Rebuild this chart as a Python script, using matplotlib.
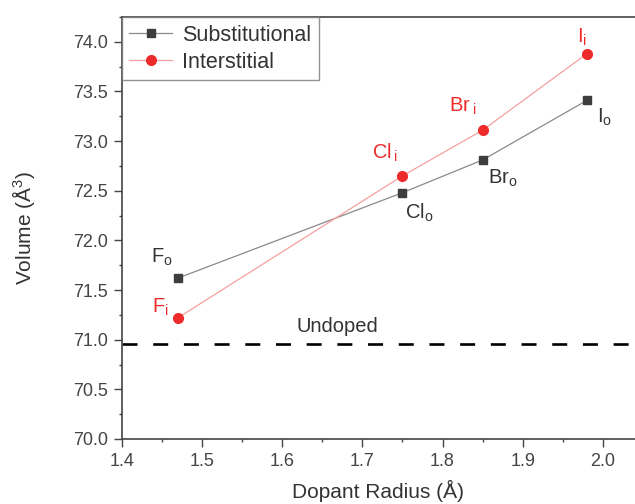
import matplotlib
matplotlib.use("Agg")
import matplotlib.pyplot as plt
from matplotlib.ticker import MultipleLocator, FormatStrFormatter
import matplotlib.transforms as mtransforms

plt.rcParams['font.family'] = ['Liberation Sans', 'DejaVu Sans']
plt.rcParams['mathtext.fontset'] = 'custom'
plt.rcParams['mathtext.rm'] = 'Liberation Sans'
plt.rcParams['mathtext.it'] = 'Liberation Sans'
plt.rcParams['lines.scale_dashes'] = False

# Data
radius = [1.47, 1.75, 1.85, 1.98]
substitutional = [71.62, 72.48, 72.81, 73.41]
interstitial = [71.22, 72.65, 73.11, 73.88]
undoped = 70.96
sub_labels = ["F$_\\mathrm{o}$", "Cl$_\\mathrm{o}$", "Br$_\\mathrm{o}$", "I$_\\mathrm{o}$"]
int_labels = ["F$_\\mathrm{i}$", "Cl$\\,_\\mathrm{i}$", "Br$\\,_\\mathrm{i}$", "I$_\\mathrm{i}$"]
sub_offsets = [(-16, 21), (17, -20), (20, -18), (18, -17)]
int_offsets = [(-17, 10), (-17, 23), (-20, 24), (-5, 16)]

text_gray = '#333333'
red = '#ee2b2b'

fig = plt.figure(figsize=(6.35, 5.04), dpi=100)
ax = fig.add_axes([0.1917, 0.129, 1.0 - 0.1917, 0.9663 - 0.129])

ax.plot(radius, substitutional, color='#8a8a8a', lw=0.9, marker='s', ms=6,
        mfc='#3d3d3d', mec='#3d3d3d', label='Substitutional', zorder=3)
ax.plot(radius, interstitial, color='#f5a0a0', lw=0.9, marker='o', ms=7,
        mfc=red, mec=red, label='Interstitial', zorder=3)

ax.axhline(undoped, color='black', lw=1.9, dashes=(10.8, 11.3), zorder=2)
ax.annotate('Undoped', xy=(0.42, undoped),
            xycoords=mtransforms.blended_transform_factory(ax.transAxes, ax.transData),
            xytext=(0, 8), textcoords='offset pixels',
            ha='center', va='bottom', fontsize=14.5, color=text_gray)

for x, y, lab, off in zip(radius, substitutional, sub_labels, sub_offsets):
    ax.annotate(lab, xy=(x, y), xytext=off, textcoords='offset pixels',
                ha='center', va='center', fontsize=14.5, color=text_gray)
for x, y, lab, off in zip(radius, interstitial, int_labels, int_offsets):
    ax.annotate(lab, xy=(x, y), xytext=off, textcoords='offset pixels',
                ha='center', va='center', fontsize=14.5, color=red)

ax.set_xlim(1.4, 2.04)
ax.set_ylim(70.0, 74.25)
ax.xaxis.set_major_locator(MultipleLocator(0.1))
ax.xaxis.set_minor_locator(MultipleLocator(0.05))
ax.yaxis.set_major_locator(MultipleLocator(0.5))
ax.yaxis.set_minor_locator(MultipleLocator(0.25))
ax.xaxis.set_major_formatter(FormatStrFormatter('%.1f'))
ax.yaxis.set_major_formatter(FormatStrFormatter('%.1f'))

ax.tick_params(which='both', direction='out', color='#444444', width=1.0,
               labelsize=13, labelcolor='#444444', top=False, right=False)
ax.tick_params(which='major', length=5.5, pad=4.5)
ax.tick_params(which='minor', length=2.5)

for s in ['left', 'bottom', 'top']:
    ax.spines[s].set_color('#444444')
    ax.spines[s].set_linewidth(1.2)
ax.spines['right'].set_visible(False)

ax.set_xlabel('Dopant Radius (Å)', fontsize=15, color=text_gray, labelpad=7)
ax.set_ylabel('Volume (Å$^3$)', fontsize=15, color=text_gray, labelpad=26)

leg = ax.legend(loc='upper left', bbox_to_anchor=(0, 1), borderaxespad=0,
                fontsize=15.5, frameon=True, fancybox=False, edgecolor='#777777',
                handlelength=2.0, handletextpad=0.45, labelspacing=0.28, borderpad=0.35)
leg.get_frame().set_linewidth(1.0)
for t in leg.get_texts():
    t.set_color(text_gray)

fig.savefig('out.png', dpi=100)
